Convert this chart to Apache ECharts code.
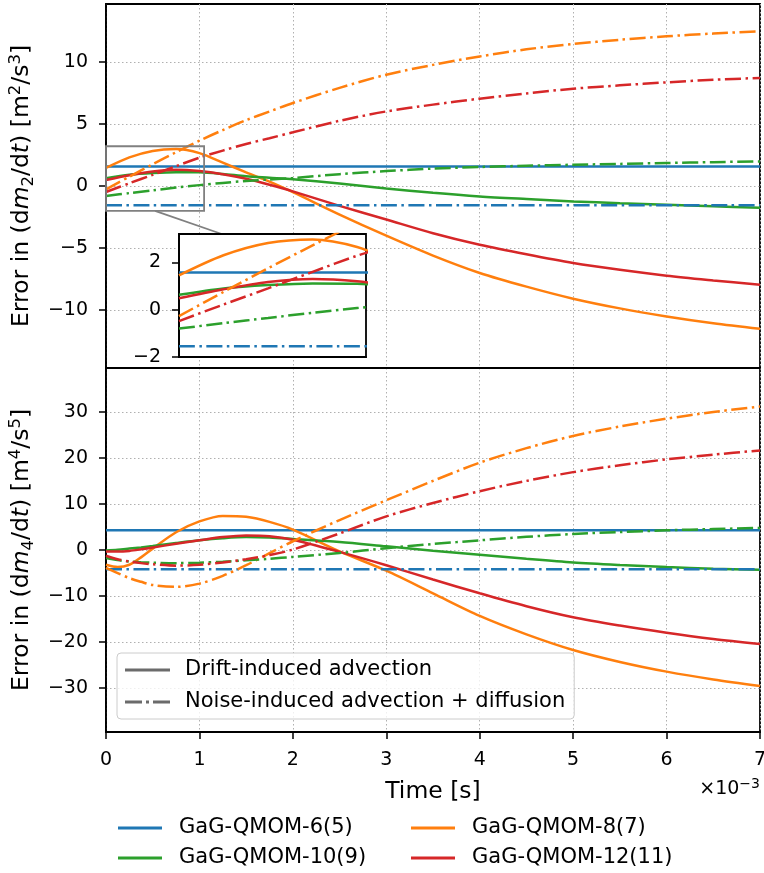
<!DOCTYPE html>
<html>
<head>
<meta charset="utf-8">
<script src="https://cdn.jsdelivr.net/npm/echarts@6/dist/echarts.min.js"></script>
<style>
  html, body { margin: 0; padding: 0; background: #fff; }
  #chart { width: 764px; height: 873px; }
</style>
</head>
<body>
<div id="chart"></div>
<script>
// ---- data (time in units of 1e-3 s) ----
const models = ['GaG-QMOM-6(5)', 'GaG-QMOM-8(7)', 'GaG-QMOM-10(9)', 'GaG-QMOM-12(11)'];
const styleNames = ['Drift-induced advection', 'Noise-induced advection + diffusion'];

const timeEnds = [0, 7];
const timeM2 = [0, 0.25, 0.5, 0.75, 1, 1.25, 1.5, 1.75, 2, 2.5, 3, 3.5, 4, 4.5, 5, 5.5, 6, 6.5, 7];
const timeM4 = [0, 0.125, 0.25, 0.375, 0.5, 0.75, 1, 1.25, 1.5, 1.75, 2, 2.5, 3, 3.5, 4, 4.5, 5, 5.5, 6, 6.5, 7];

// error in dm2/dt
const m2Drift6 = [1.57, 1.57];
const m2Drift8 = [1.45, 2.3, 2.82, 2.97, 2.65, 1.88, 1.1, 0.35, -0.5, -2.3, -4.0, -5.6, -7.0, -8.1, -9.07, -9.85, -10.5, -11.05, -11.5];
const m2Drift10 = [0.63, 0.9, 1.04, 1.11, 1.1, 0.97, 0.78, 0.66, 0.54, 0.2, -0.2, -0.55, -0.84, -1.05, -1.24, -1.38, -1.5, -1.63, -1.75];
const m2Drift12 = [0.48, 0.86, 1.17, 1.3, 1.2, 0.95, 0.58, 0.1, -0.43, -1.6, -2.7, -3.8, -4.73, -5.5, -6.2, -6.75, -7.22, -7.6, -7.95];
const m2Noise6 = [-1.55, -1.55];
const m2Noise8 = [-0.27, 0.75, 1.75, 2.72, 3.65, 4.5, 5.3, 6.0, 6.68, 7.9, 8.96, 9.75, 10.43, 11.0, 11.43, 11.77, 12.05, 12.27, 12.45];
const m2Noise10 = [-0.8, -0.57, -0.35, -0.13, 0.07, 0.25, 0.4, 0.53, 0.64, 0.95, 1.2, 1.4, 1.53, 1.63, 1.71, 1.78, 1.85, 1.92, 1.98];
const m2Noise12 = [-0.48, 0.22, 0.9, 1.6, 2.28, 2.85, 3.38, 3.85, 4.32, 5.25, 6.0, 6.55, 7.03, 7.45, 7.83, 8.1, 8.34, 8.55, 8.7];

// error in dm4/dt
const m4Drift6 = [4.3, 4.3];
const m4Drift8 = [-3.2, -3.7, -3.2, -1.6, 0.3, 3.85, 6.2, 7.4, 7.2, 6.1, 4.42, -0.3, -4.5, -9.4, -14.3, -18.3, -21.7, -24.3, -26.4, -28.1, -29.5];
const m4Drift10 = [-0.1, 0.05, 0.3, 0.55, 0.85, 1.5, 2.1, 2.55, 2.8, 2.7, 2.4, 1.75, 0.8, -0.15, -1.02, -1.9, -2.7, -3.25, -3.7, -4.05, -4.3];
const m4Drift12 = [-0.3, -0.35, -0.2, 0.15, 0.55, 1.35, 2.1, 2.8, 3.15, 3.0, 2.24, -0.4, -3.3, -6.4, -9.4, -12.2, -14.6, -16.4, -17.95, -19.3, -20.4];
const m4Noise6 = [-4.2, -4.2];
const m4Noise8 = [-3.9, -5.0, -6.1, -6.9, -7.6, -8.0, -7.3, -5.6, -3.3, -0.7, 1.9, 6.5, 10.8, 15.0, 18.95, 22.1, 24.75, 26.8, 28.5, 29.95, 31.15];
const m4Noise10 = [-1.75, -2.2, -2.5, -2.65, -2.75, -2.85, -2.75, -2.55, -2.25, -1.9, -1.5, -0.65, 0.4, 1.3, 2.1, 2.85, 3.48, 3.9, 4.27, 4.55, 4.79];
const m4Noise12 = [-1.24, -2.0, -2.5, -2.85, -3.1, -3.4, -3.2, -2.7, -2.0, -1.1, 0.1, 3.6, 7.3, 10.2, 12.77, 15.0, 16.9, 18.4, 19.67, 20.7, 21.6];

// tick values
const xTicks = [0, 1, 2, 3, 4, 5, 6, 7];
const yTicksM2 = [-10, -5, 0, 5, 10];
const yTicksM4 = [-30, -20, -10, 0, 10, 20, 30];
const yTicksInset = [-2, 0, 2];

// axis extents
const xRange = [0, 7];
const yRangeM2 = [-14.65, 14.65];
const yRangeM4 = [-39.5, 39.5];
const insetX = [0, 1.05];
const insetY = [-2, 3.2];

// ---- styles ----
const FONT = 'DejaVu Sans';
const colors = ['#1f77b4', '#ff7f0e', '#2ca02c', '#d62728'];
const DASHDOT = [16, 4.5, 2.5, 4.5];
const LW = 2.5;
const minus = v => String(v).replace('-', '\u2212');
// legend key glyphs (unit box, stretched to itemWidth x itemHeight)
const KEY_SOLID = 'path://M0,0H45V3H0Z';
const KEY_DASHDOT = 'path://M0,0H17V3H0Z M21,0H24V3H21Z M28,0H45V3H28Z';

const panelM2 = { x: [timeEnds, timeM2, timeM2, timeM2], drift: [m2Drift6, m2Drift8, m2Drift10, m2Drift12], noise: [m2Noise6, m2Noise8, m2Noise10, m2Noise12] };
const panelM4 = { x: [timeEnds, timeM4, timeM4, timeM4], drift: [m4Drift6, m4Drift8, m4Drift10, m4Drift12], noise: [m4Noise6, m4Noise8, m4Noise10, m4Noise12] };

function line(name, xs, ys, color, dashed, axisIdx, zlevel) {
  return {
    type: 'line', name: name,
    xAxisIndex: axisIdx, yAxisIndex: axisIdx,
    data: xs.map((t, k) => [t, ys[k]]),
    smooth: 0.3, showSymbol: false, symbol: 'none',
    clip: true, zlevel: zlevel || 0, z: 3,
    lineStyle: { color: color, width: LW, type: dashed ? DASHDOT : 'solid' },
    itemStyle: { color: color },
    emphasis: { disabled: true }, silent: true, animation: false
  };
}

const series = [];
function addPanel(panel, axisIdx, zlevel) {
  for (let i = 0; i < 4; i++) series.push(line(models[i], panel.x[i], panel.drift[i], colors[i], false, axisIdx, zlevel));
  for (let i = 0; i < 4; i++) series.push(line(models[i], panel.x[i], panel.noise[i], colors[i], true, axisIdx, zlevel));
}
addPanel(panelM2, 0, 0);
addPanel(panelM4, 1, 0);
addPanel(panelM2, 2, 1);
// line-style key entries
series.push(line(styleNames[0], [], [], '#6b6b6b', false, 1, 0));
series.push(line(styleNames[1], [], [], '#6b6b6b', true, 1, 0));

const gridTop = { left: 106, top: 4, width: 654, height: 364 };
const gridBot = { left: 106, top: 368, width: 654, height: 364 };
const gridInset = { left: 179, top: 234, width: 187, height: 123 };

const splitStyle = { show: true, lineStyle: { color: '#b0b0b0', width: 1, type: [1.5, 2.5] } };
const tickLabel = { fontFamily: FONT, fontSize: 19, color: '#000' };

function valueY(range, ticks, splitNumber, gridIndex, zlevel, nameText) {
  return {
    type: 'value', gridIndex: gridIndex, min: range[0], max: range[1], splitNumber: splitNumber,
    zlevel: zlevel,
    axisLine: { show: true, onZero: false, lineStyle: { color: '#000', width: 1.8 } },
    axisTick: { show: true, inside: false, length: 7, customValues: ticks, lineStyle: { color: '#000', width: 1.5 } },
    axisLabel: Object.assign({ show: true, margin: 18, customValues: ticks, formatter: minus }, tickLabel),
    splitLine: gridIndex === 2 ? { show: false } : splitStyle,
    name: nameText || '',
    nameLocation: 'middle', nameRotate: 90, nameGap: 57,
    nameTextStyle: {
      fontFamily: FONT, fontSize: 23.5, color: '#000', lineHeight: 30,
      rich: {
        i: { fontFamily: FONT, fontSize: 23.5, fontStyle: 'italic', color: '#000', lineHeight: 30 },
        sub: { fontFamily: FONT, fontSize: 16.5, color: '#000', lineHeight: 13, verticalAlign: 'bottom' },
        sup: { fontFamily: FONT, fontSize: 16.5, color: '#000', lineHeight: 13, verticalAlign: 'top' }
      }
    }
  };
}

function valueX(range, gridIndex, zlevel, showLabels) {
  const main = gridIndex !== 2;
  return {
    type: 'value', gridIndex: gridIndex, min: range[0], max: range[1],
    interval: main ? 1 : undefined,
    zlevel: zlevel,
    axisLine: { show: true, onZero: false, lineStyle: { color: '#000', width: 1.8 } },
    axisTick: { show: showLabels, inside: false, length: 7, customValues: main ? xTicks : undefined, lineStyle: { color: '#000', width: 1.5 } },
    axisLabel: Object.assign({ show: showLabels, margin: 19, customValues: main ? xTicks : undefined }, tickLabel),
    splitLine: main ? splitStyle : { show: false },
    name: showLabels ? 'Time [s]' : '',
    nameLocation: 'middle', nameGap: 48,
    nameTextStyle: { fontFamily: FONT, fontSize: 23.5, color: '#000' }
  };
}

const chart = echarts.init(document.getElementById('chart'), null, { renderer: 'canvas' });

const gridBase = { show: true, borderColor: '#000', borderWidth: 1.8, containLabel: false, outerBoundsMode: 'none' };
const keyLegendBase = {
  itemHeight: 3, padding: 0, symbolKeepAspect: false,
  selectedMode: false
};

const option = {
  animation: false,
  backgroundColor: '#fff',
  textStyle: { fontFamily: FONT },
  grid: [
    Object.assign({ backgroundColor: 'transparent' }, gridBase, gridTop),
    Object.assign({ backgroundColor: 'transparent' }, gridBase, gridBot),
    Object.assign({ backgroundColor: '#fff', zlevel: 1, z: 0 }, gridBase, gridInset)
  ],
  xAxis: [
    valueX(xRange, 0, 0, false),
    valueX(xRange, 1, 0, true),
    valueX(insetX, 2, 1, false)
  ],
  yAxis: [
    valueY(yRangeM2, yTicksM2, 6, 0, 0, 'Error in (d{i|m}{sub|2}/d{i|t}) [m{sup|2}/s{sup|3}]'),
    valueY(yRangeM4, yTicksM4, 8, 1, 0, 'Error in (d{i|m}{sub|4}/d{i|t}) [m{sup|4}/s{sup|5}]'),
    Object.assign(valueY(insetY, yTicksInset, 3, 2, 1, ''), { interval: 2 })
  ],
  legend: [
    Object.assign({}, keyLegendBase, {
      data: [{ name: styleNames[0], icon: KEY_SOLID }, { name: styleNames[1], icon: KEY_DASHDOT }],
      orient: 'vertical', left: 117, top: 653,
      itemWidth: 45, itemGap: 8,
      padding: [5, 9, 5, 8],
      backgroundColor: 'rgba(255,255,255,0.8)', borderColor: '#cccccc', borderWidth: 1, borderRadius: 4,
      textStyle: { fontFamily: FONT, fontSize: 21, color: '#000', lineHeight: 24, padding: [0, 0, 0, 10] },
      z: 10
    }),
    Object.assign({}, keyLegendBase, {
      data: [{ name: models[0], icon: KEY_SOLID }, { name: models[2], icon: KEY_SOLID }],
      orient: 'vertical', left: 118, top: 816,
      itemWidth: 44, itemGap: 6,
      textStyle: { fontFamily: FONT, fontSize: 21, color: '#000', lineHeight: 24, padding: [0, 0, 0, 12] }
    }),
    Object.assign({}, keyLegendBase, {
      data: [{ name: models[1], icon: KEY_SOLID }, { name: models[3], icon: KEY_SOLID }],
      orient: 'vertical', left: 411, top: 816,
      itemWidth: 44, itemGap: 6,
      textStyle: { fontFamily: FONT, fontSize: 21, color: '#000', lineHeight: 24, padding: [0, 0, 0, 12] }
    })
  ],
  series: series
};
chart.setOption(option);

// zoom-region box, its connector and the axis offset text
const r0 = chart.convertToPixel({ gridIndex: 0 }, [insetX[0], insetY[0]]);
const r1 = chart.convertToPixel({ gridIndex: 0 }, [insetX[1], insetY[1]]);
const c0 = chart.convertToPixel({ gridIndex: 0 }, [(insetX[0] + insetX[1]) / 2, insetY[0]]);
const c1 = chart.convertToPixel({ gridIndex: 2 }, [0.24, insetY[1]]);

chart.setOption({
  graphic: [
    {
      type: 'line', z: 50, silent: true,
      shape: { x1: c0[0], y1: c0[1], x2: c1[0], y2: c1[1] },
      style: { stroke: '#808080', lineWidth: 1.8 }
    },
    {
      type: 'rect', z: 50, silent: true,
      shape: { x: r0[0], y: r1[1], width: r1[0] - r0[0], height: r0[1] - r1[1] },
      style: { stroke: '#808080', lineWidth: 1.8, fill: 'none' }
    },
    {
      type: 'text', right: 4, top: 777, silent: true,
      style: {
        text: '\u00d710{sup|\u22123}',
        font: '19px "DejaVu Sans"', fill: '#000',
        rich: { sup: { fontSize: 14, fontFamily: FONT, fill: '#000', verticalAlign: 'top', lineHeight: 12 } },
        lineHeight: 24
      }
    }
  ]
});
</script>
</body>
</html>
